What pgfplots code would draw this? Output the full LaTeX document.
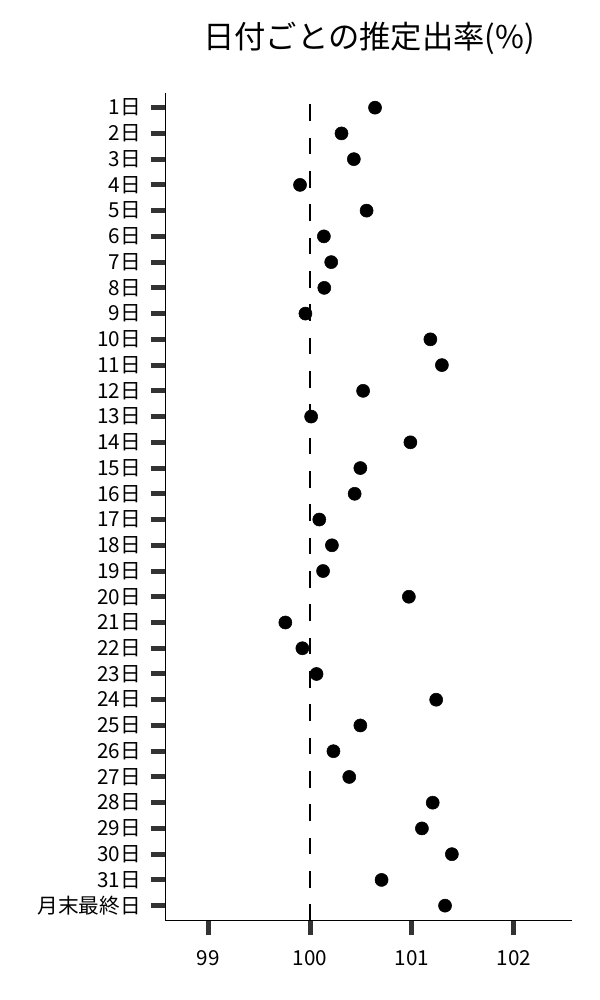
\documentclass[border=0pt]{standalone}
\usepackage{fontspec}
\setmainfont{Noto Sans CJK JP}
\usepackage{pgfplots}
\pgfplotsset{compat=1.18}
\usepackage{pgfplotstable}

% pos = 33 - day (1日 at the top)
\pgfplotstableread{
pos rate
32 100.638
31 100.309
30 100.430
29 99.902
28 100.555
27 100.136
26 100.208
25 100.140
24 99.955
23 101.181
22 101.294
21 100.521
20 100.011
19 100.985
18 100.494
17 100.438
16 100.091
15 100.215
14 100.128
13 100.970
12 99.758
11 99.925
10 100.064
9 101.238
8 100.494
7 100.230
6 100.385
5 101.204
4 101.098
3 101.392
2 100.702
1 101.325
}\ratetable

\definecolor{tickgray}{HTML}{333333}

\begin{document}
\begin{tikzpicture}
\useasboundingbox (-124.05pt,-59.5pt) rectangle (325.95pt,690.5pt);
\begin{axis}[
    at={(0,0)}, anchor=south west,
    scale only axis,
    width=305.2pt, height=621pt,
    xmin=98.581, xmax=102.574,
    ymin=0.417, ymax=32.583,
    axis x line*=bottom,
    axis y line*=left,
    axis line style={line width=0.75pt, black},
    xtick={99,100,101,102},
    ytick={1,...,32},
    yticklabels={月末最終日,31日,30日,29日,28日,27日,26日,25日,24日,23日,22日,21日,20日,19日,18日,17日,16日,15日,14日,13日,12日,11日,10日,9日,8日,7日,6日,5日,4日,3日,2日,1日},
    tick align=outside,
    major tick length=11pt,
    tick style={line width=3.75pt, color=tickgray},
    ticklabel style={font=\fontsize{15.5pt}{18pt}\selectfont},
    yticklabel style={xshift=-4pt},
    xticklabel style={yshift=-8pt},
    /pgf/number format/assume math mode=true,
    title={日付ごとの推定出率(\%)},
    title style={font=\fontsize{23.5pt}{28pt}\selectfont, at={(0.5,1)}, anchor=base, yshift=26.8pt},
    clip=false,
]
\addplot[black, line width=1.5pt, dash pattern=on 12.5pt off 12.5pt]
    coordinates {(100,32.132) (100,0.417)};
\addplot[only marks, mark=*, mark size=4.9pt, black] table[x=rate, y=pos] {\ratetable};
\end{axis}
\end{tikzpicture}
\end{document}
